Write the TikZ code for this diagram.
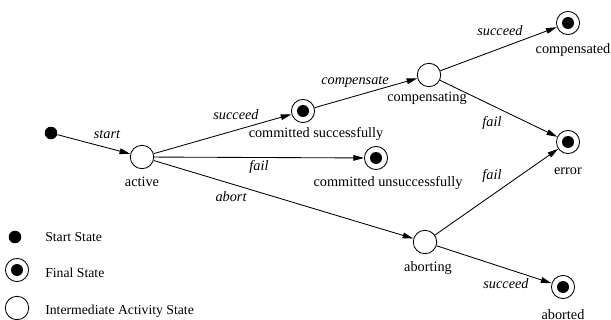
\documentclass[tikz,border=0pt]{standalone}
\usepackage{fontspec}
\setmainfont{Liberation Serif}
\usetikzlibrary{arrows.meta}

\tikzset{
	startstate/.style={circle, fill=black, inner sep=0pt, minimum size=8.8pt},
	finalstate/.style={circle, draw, line width=0.6pt, inner sep=0pt, minimum size=16.2pt,
		path picture={\fill (path picture bounding box.center) circle (4.2pt);}},
	midstate/.style={circle, draw, line width=0.6pt, inner sep=0pt, minimum size=16.4pt},
	statename/.style={anchor=base, inner sep=0pt},
	event/.style={anchor=base, inner sep=0pt, font=\itshape},
	keytext/.style={anchor=base west, inner sep=0pt, font=\fontsize{9.6}{11}\selectfont},
	trans/.style={-{Triangle[length=7.5pt,width=4pt]}, line width=0.6pt},
}

\begin{document}
\begin{tikzpicture}[x=0.7pt, y=-0.7pt]

		\useasboundingbox (0, 0) rectangle (611, 320);

		\node[startstate] (start) at (51, 133) {};
		\node[midstate] (active) at (142, 157) {};
		\node[finalstate] (commsucc) at (303, 111) {};
		\node[finalstate] (communsucc) at (376, 158) {};
		\node[midstate] (compensating) at (429, 75) {};
		\node[finalstate] (compensated) at (568, 23) {};
		\node[finalstate] (error) at (568, 142) {};
		\node[midstate] (aborting) at (425, 242) {};
		\node[finalstate] (aborted) at (563, 287) {};

		\node[statename] (N1) at (142, 187) {active};
		\node[statename] (N2) at (316, 138) {committed successfully};
		\node[statename] (N3) at (388, 187) {committed unsuccessfully};
		\node[statename] (N4) at (427, 102) {compensating};
		\node[statename] (N5) at (573, 54) {compensated};
		\node[statename] (N6) at (568, 175) {error};
		\node[statename] (N7) at (428, 271) {aborting};
		\node[statename] (N8) at (563, 319) {aborted};

		\draw[trans] (start) -- (active);
		\draw[trans] (active) -- (commsucc);
		\draw[trans] (active) -- (communsucc);
		\draw[trans] (active) -- (aborting);
		\draw[trans] (commsucc) -- (compensating);
		\draw[trans] (compensating) -- (compensated);
		\draw[trans] (compensating) -- (error);
		\draw[trans] (aborting) -- (error);
		\draw[trans] (aborting) -- (aborted);

		\node[event] (E1) at (107, 139) {start};
		\node[event] (E2) at (236, 120) {succeed};
		\node[event] (E3) at (259, 171) {fail};
		\node[event] (E4) at (231, 202) {abort};
		\node[event] (E5) at (355, 85) {compensate};
		\node[event] (E6) at (500, 36) {succeed};
		\node[event] (E7) at (492, 127) {fail};
		\node[event] (E8) at (492, 180) {fail};
		\node[event] (E9) at (506, 288) {succeed};

		% legend
		\node[startstate] (key1) at (15, 237) {};
		\node[finalstate] (key2) at (17, 270) {};
		\node[midstate] (key3) at (17, 308) {};

		\node[keytext] (K1) at (45, 241) {Start State};
		\node[keytext] (K2) at (45, 277) {Final State};
		\node[keytext] (K3) at (45, 314) {Intermediate Activity State};

	\end{tikzpicture}
\end{document}
